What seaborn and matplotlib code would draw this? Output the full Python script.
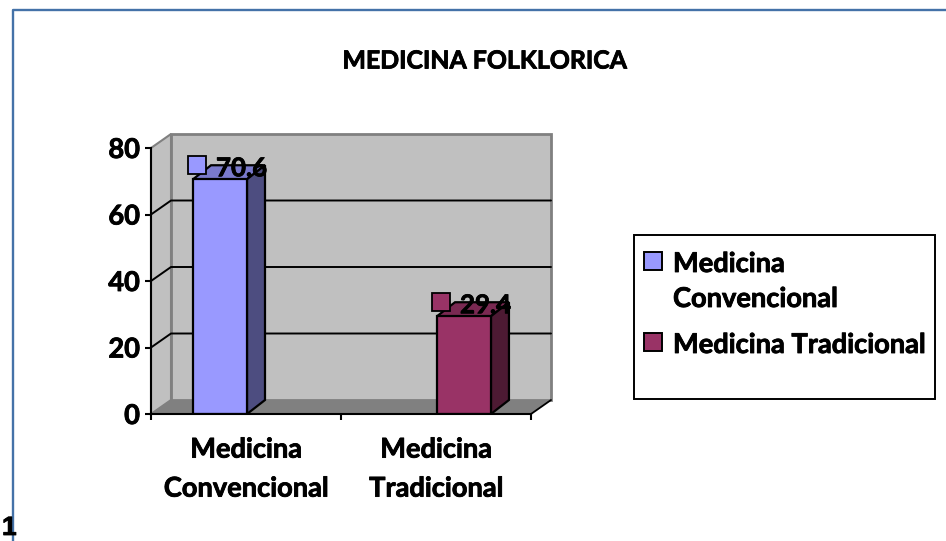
import matplotlib
matplotlib.use("Agg")
import matplotlib.pyplot as plt
import matplotlib.patheffects as pe
import pandas as pd
import seaborn as sns
from matplotlib.patches import Polygon, Rectangle
from matplotlib.text import Text
from matplotlib.transforms import offset_copy

categories = ["Medicina\nConvencional", "Medicina\nTradicional"]
series_names = ["Medicina\nConvencional", "Medicina Tradicional"]
values = [70.6, 29.4]
y_ticks = [0, 20, 40, 60, 80]
title = "MEDICINA FOLKLORICA"

front_colors = ["#9999FF", "#993366"]
top_colors = ["#7A7ACC", "#7A2952"]
side_colors = ["#4D4D80", "#4D1A33"]

W, H = 946, 541
LEFT, RIGHT, TOP, BOTTOM = 151, 531, 148, 414
FONT = 19.6

sns.set_theme(style="white")
plt.rcParams["font.family"] = ["Lato", "DejaVu Sans"]
plt.rcParams["font.weight"] = "bold"

fig = plt.figure(figsize=(W / 100, H / 100), dpi=100)
ax = fig.add_axes([LEFT / W, 1 - BOTTOM / H, (RIGHT - LEFT) / W, (BOTTOM - TOP) / H])
ax.patch.set_alpha(0)

df = pd.DataFrame({"category": categories, "value": values, "series": series_names})
sns.barplot(data=df, x="category", y="value", hue="series", hue_order=series_names,
            palette=front_colors, saturation=1, width=0.568, dodge=True, gap=0, legend=False,
            edgecolor="black", linewidth=1.6, zorder=5, ax=ax)

ax.set_xlim(-0.5, 1.5)
ax.set_ylim(0, 80)

# pixels to data units, used for the fake 3D depth
px_x = 2.0 / (RIGHT - LEFT)
px_y = 80.0 / (BOTTOM - TOP)
wall_dx, wall_dy = 20 * px_x, 14 * px_y
bar_dx, bar_dy = 18 * px_x, 14 * px_y

x0, x1 = ax.get_xlim()

# back wall, side wall and floor
ax.add_patch(Polygon([(x0 + wall_dx, wall_dy), (x1 + wall_dx, wall_dy),
                      (x1 + wall_dx, 80 + wall_dy), (x0 + wall_dx, 80 + wall_dy)],
                     facecolor="#C0C0C0", edgecolor="#808080", linewidth=2, clip_on=False, zorder=1))
ax.add_patch(Polygon([(x0, 0), (x0 + wall_dx, wall_dy), (x0 + wall_dx, 80 + wall_dy), (x0, 80)],
                     facecolor="#C0C0C0", edgecolor="#808080", linewidth=1.5, clip_on=False, zorder=1))
ax.add_patch(Polygon([(x0, 0), (x1, 0), (x1 + wall_dx, wall_dy), (x0 + wall_dx, wall_dy)],
                     facecolor="#808080", edgecolor="none", clip_on=False, zorder=2))
ax.plot([x1, x1 + wall_dx], [0, wall_dy], color="black", lw=1.3, clip_on=False, zorder=3)

# gridlines run across the back wall and down the side wall
for t in y_ticks[1:-1]:
    ax.plot([x0, x0 + wall_dx, x1 + wall_dx], [t, t + wall_dy, t + wall_dy],
            color="black", lw=1.4, clip_on=False, zorder=3)

bars = [c[0] for c in ax.containers]
for i, bar in enumerate(bars):
    bar.set_x(bar.get_x() + px_x)
    bx0, bx1 = bar.get_x(), bar.get_x() + bar.get_width()
    top = bar.get_height()
    ax.add_patch(Polygon([(bx0, top), (bx1, top), (bx1 + bar_dx, top + bar_dy), (bx0 + bar_dx, top + bar_dy)],
                         facecolor=top_colors[i], edgecolor="black", linewidth=1.6, clip_on=False, zorder=4))
    ax.add_patch(Polygon([(bx1, 0), (bx1 + bar_dx, bar_dy), (bx1 + bar_dx, top + bar_dy), (bx1, top)],
                         facecolor=side_colors[i], edgecolor="black", linewidth=1.6, clip_on=False, zorder=4))

    # data label with its legend key next to it
    cx = bar.get_x() + bar.get_width() / 2
    key_tr = offset_copy(ax.transData, fig=fig, x=-23, y=14, units="dots")
    ax.plot([cx], [top], marker="s", ms=12.5, mfc=front_colors[i], mec="black", mew=1.3,
            transform=key_tr, clip_on=False, zorder=7)
    ax.annotate(f"{values[i]}", (cx, top), xytext=(-4, 11), textcoords="offset pixels",
                ha="left", va="center", fontsize=18.6, fontweight="bold", color="black", zorder=8)

sns.despine(ax=ax, top=True, right=True)
for s in ["left", "bottom"]:
    ax.spines[s].set_color("black")
    ax.spines[s].set_linewidth(1.5)
    ax.spines[s].set_zorder(6)

ax.set_yticks(y_ticks)
ax.set_xticks([0, 1])
ax.set_xticklabels(categories, linespacing=1.75)
ax.set_xticks([-0.5, 0.5, 1.5], minor=True)
ax.set_xlabel("")
ax.set_ylabel("")
ax.tick_params(axis="x", which="major", length=0, pad=17, labelsize=FONT, colors="black")
ax.tick_params(axis="x", which="minor", bottom=True, length=4, width=1.5, color="black")
ax.tick_params(axis="y", left=True, length=4, width=1.5, color="black", pad=4, labelsize=FONT, labelcolor="black")

fig.text(485 / W, 1 - 61 / H, title, ha="center", va="center", fontsize=17.9, fontweight="bold", color="black")

# legend drawn by hand, the key has to sit on the first line of the wrapped label
fig.add_artist(Rectangle((634 / W, 1 - 399 / H), 301 / W, 164 / H, transform=fig.transFigure,
                         facecolor="white", edgecolor="black", linewidth=1.4))
key_tops = [252, 333]
label_centers = [281.5, 345]
for c, n, kt, lc in zip(front_colors, series_names, key_tops, label_centers):
    fig.add_artist(Rectangle((644 / W, 1 - (kt + 18) / H), 18 / W, 18 / H, transform=fig.transFigure,
                             facecolor=c, edgecolor="black", linewidth=1.4))
    fig.text(673 / W, 1 - lc / H, n, ha="left", va="center", fontsize=FONT, fontweight="bold",
             color="black", linespacing=1.55)

# page border and stray page number from the slide
fig.text(2 / W, 1 - 535 / H, "1", ha="left", va="baseline", fontsize=19, fontweight="bold",
         family="Liberation Sans", color="black")
fig.add_artist(plt.Line2D([13 / W, 13 / W, 1], [0, 1 - 10 / H, 1 - 10 / H], color="#4472A8", lw=1.7,
                          transform=fig.transFigure))

# the original text is heavier than Lato Bold
for t in fig.findobj(Text):
    t.set_path_effects([pe.withStroke(linewidth=0.6, foreground="black")])

fig.savefig("out.png", dpi=100)
